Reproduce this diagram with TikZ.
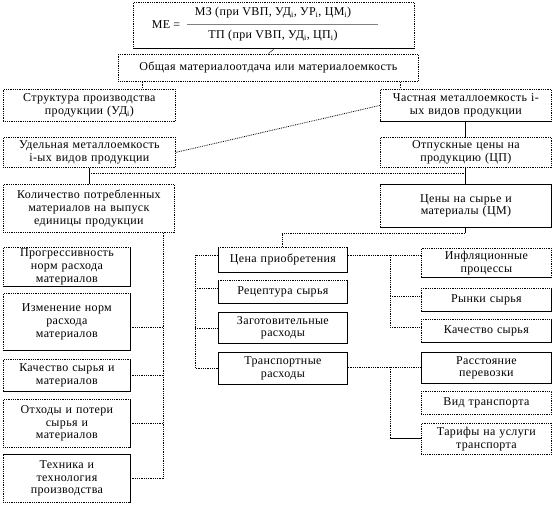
\documentclass[tikz,border=0pt]{standalone}
\usepackage{fontspec}
\setmainfont{Liberation Serif}[LetterSpace=3]
\begin{document}
\begin{tikzpicture}[x=1pt,y=-1pt,
  box/.style={draw, densely dotted, line width=0.8pt, inner sep=0pt, align=center,
    font=\fontsize{12}{12.8}\selectfont},
  sol/.style={draw, solid, line width=0.8pt},
  conn/.style={draw, densely dotted, line width=0.8pt},
  txt/.style={inner sep=0pt, font=\fontsize{12}{13}\selectfont}]
\useasboundingbox (0,0) rectangle (554,505);
\newcommand\bx[6]{%
  \pgfmathsetmacro\bxw{#4-#2}\pgfmathsetmacro\bxh{#5-#3}\pgfmathsetmacro\bxt{#4-#2-4}%
  \node[box, anchor=north west, minimum width=\bxw pt, minimum height=\bxh pt, text width=\bxt pt] (#1) at (#2,#3) {#6};}
% formula box
\bx{form}{133}{2}{414}{48}{}
\node[txt] (me) at (166,25) {МЕ =};
\node[txt] (num) at (273,13) {МЗ (при VВП, УД\textsubscript{i}, УР\textsubscript{i}, ЦМ\textsubscript{i})};
\node[txt] (den) at (273,36) {ТП (при VВП, УД\textsubscript{i}, ЦП\textsubscript{i})};
\coordinate (fl) at (187,24); \coordinate (fr) at (378,24);
\draw[line width=0.5pt, gray] (fl) -- (fr);
\bx{obsh}{118}{54}{418}{81}{Общая материалоотдача или материалоемкость}
\bx{struct}{3}{89}{175}{121}{Структура производства\\продукции (УД\textsubscript{i})}
\bx{part}{380}{89}{551}{121}{Частная металлоемкость i-\\ых видов продукции}
\bx{udel}{3}{137}{175}{167}{Удельная металлоемкость\\i-ых видов продукции}
\bx{otp}{380}{137}{551}{167}{Отпускные цены на\\продукцию (ЦП)}
\bx{kol}{3}{184}{174}{232}{Количество потребленных\\материалов на выпуск\\единицы продукции}
\bx{cen}{380}{184}{551}{227}{Цены на сырье и\\материалы (ЦМ)}
% left column
\bx{prog}{3}{247}{130}{286}{Прогрессивность\\норм расхода\\материалов}
\bx{izm}{3}{293}{130}{350}{Изменение норм\\расхода\\материалов}
\bx{kach}{3}{359}{130}{391}{Качество сырья и\\материалов}
\bx{oth}{3}{399}{130}{447}{Отходы и потери\\сырья и\\материалов}
\bx{tech}{3}{454}{130}{502}{Техника и\\технология\\производства}
% middle column
\bx{cpr}{218}{247}{347}{272}{Цена приобретения}
\bx{rec}{218}{280}{347}{303}{Рецептура сырья}
\bx{zag}{218}{312}{347}{343}{Заготовительные\\расходы}
\bx{tr}{218}{352}{347}{384}{Транспортные\\расходы}
% right column
\bx{inf}{421}{248}{551}{277}{Инфляционные\\процессы}
\bx{ryn}{421}{288}{551}{311}{Рынки сырья}
\bx{kachs}{421}{319}{551}{342}{Качество сырья}
\bx{rass}{421}{352}{551}{383}{Расстояние\\перевозки}
\bx{vid}{421}{391}{551}{414}{Вид транспорта}
\bx{tar}{421}{423}{551}{454}{Тарифы на услуги\\транспорта}
% solid edges
\draw[sol] (form.south west) -- (form.south east);
\draw[sol] (part.south west) -- (part.south east);
\draw[sol] (cen.north west) -- (cen.north east) -- (cen.south east) -- (cen.south west);
\foreach \n in {prog,izm,kach,rec,cpr,ryn,kachs}{\draw[sol] (\n.north east) -- (\n.south east) -- (\n.south west);}
\draw[sol] (tech.north west) -- (tech.north east) -- (tech.south east);
\draw[sol] (oth.north east) -- (oth.south east);
\foreach \n in {zag,tr,rass}{\draw[sol] (\n.north west) rectangle (\n.south east);}
\draw[sol] (cpr.north west) -- (cpr.south west);
\draw[sol] (rec.north west) -- (rec.south west);
\draw[sol] (inf.south west) -- (inf.south east);
% connectors
\draw[conn] (form.south) -- (obsh.north);
\coordinate (h1) at (142,84); \coordinate (h2) at (400,84);
\draw[conn] (h1 |- obsh.south) -- (h1 |- struct.north);
\draw[conn] (h2 |- obsh.south) -- (h2 |- part.north);
\draw[conn] (udel.east) -- (part.west);
\coordinate (vr) at (465,173); \coordinate (vl) at (89,173);
\draw[sol] (vr |- part.south) -- (vr |- otp.north);
\draw[sol] (vl |- udel.south) -- (vl |- kol.north);
\draw[sol] (vr |- otp.south) -- (vr |- cen.north);
\draw[conn] (vl) -- (vr);
\coordinate (c1) at (465,233); \coordinate (c2) at (282,233);
\draw[sol] (c1 |- cen.south) -- (c1);
\draw[conn] (c1) -- (c2) -- (c2 |- cpr.north);
% left bracket
\coordinate (lv) at (163,478);
\draw[conn] (lv |- kol.south) -- (lv);
\coordinate (lizm) at (163,327); \coordinate (lkach) at (163,375); \coordinate (loth) at (163,423);
\draw[conn] (lizm) -- (lizm -| izm.east);
\draw[conn] (lkach) -- (lkach -| kach.east);
\draw[conn] (loth) -- (loth -| oth.east);
\draw[conn] (lv) -- (lv -| tech.east);
% middle left bracket
\coordinate (m1) at (195,255); \coordinate (m2) at (195,288); \coordinate (m3) at (195,328); \coordinate (m4) at (195,368);
\draw[conn] (m1 -| cpr.west) -- (m1) -- (m4) -- (m4 -| tr.west);
\draw[conn] (m2) -- (m2 -| rec.west);
\draw[conn] (m3) -- (m3 -| zag.west);
% right brackets
\coordinate (r1) at (390,255); \coordinate (r2) at (390,296); \coordinate (r3) at (390,327);
\draw[conn] (r1 -| cpr.east) -- (r1 -| inf.west);
\draw[conn] (r1) -- (r3) -- (r3 -| kachs.west);
\draw[conn] (r2) -- (r2 -| ryn.west);
\coordinate (r4) at (390,367); \coordinate (r5) at (390,438);
\draw[conn] (r4 -| tr.east) -- (r4 -| rass.west);
\draw[conn] (r4) -- (r5);
\draw[sol] (r5) -- (r5 -| tar.west);
\end{tikzpicture}
\end{document}
